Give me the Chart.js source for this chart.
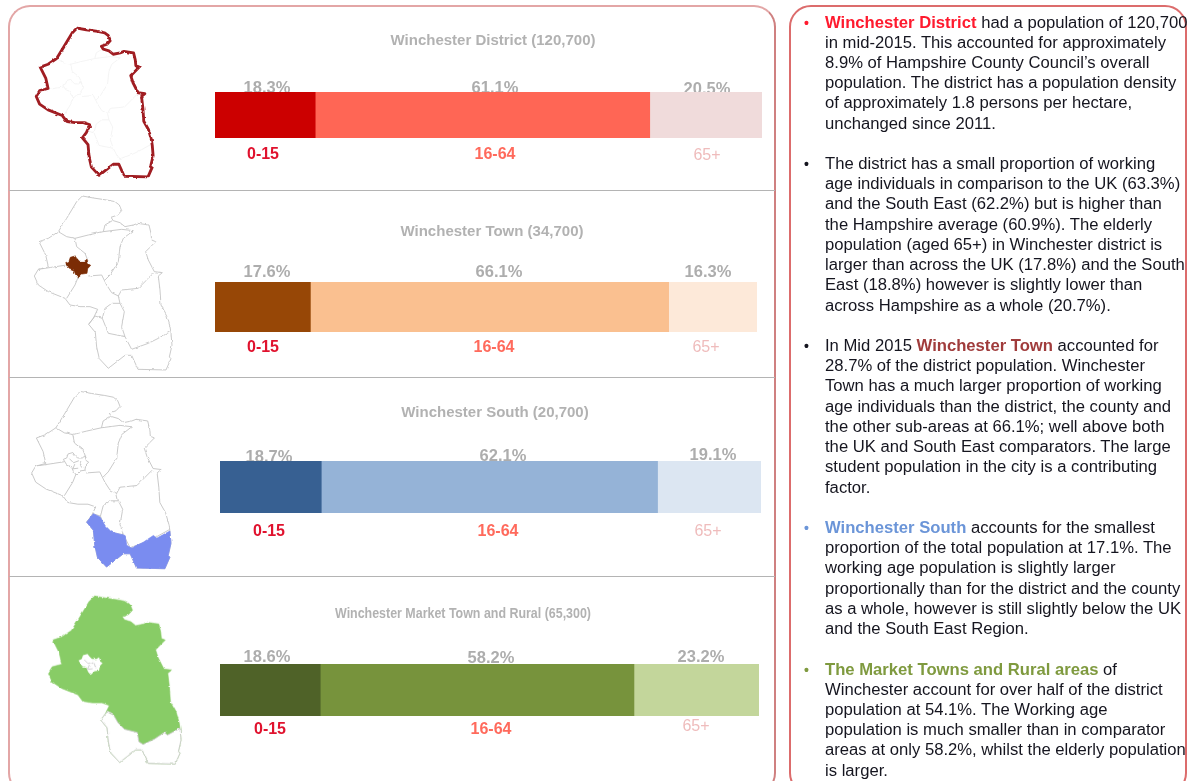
<!DOCTYPE html>
<html>
<head>
<meta charset="utf-8">
<title>Winchester population by age</title>
<script src="https://cdn.jsdelivr.net/npm/chart.js@4"></script>
<style>
html, body { margin: 0; padding: 0; background: #fff; overflow: hidden; }
#page { position: relative; width: 1196px; height: 781px; overflow: hidden; font-family: "Liberation Sans", Arial, sans-serif; }
.box { position: absolute; box-sizing: border-box; top: 5px; height: 790px; background: #fff; border-radius: 22px; }
#leftbox { left: 8px; width: 768px; border: 2px solid #e3a6a6; border-right-color: #cf8080; }
#rightbox { left: 789px; width: 398px; border: 2px solid #dc6c6c; }
.rule { position: absolute; left: 9px; width: 766px; height: 0; border-top: 1.5px solid #b4b4b4; }
canvas { position: absolute; }
svg.map { position: absolute; left: 0; top: 0; filter: blur(0.35px); }
#notes { position: absolute; left: 825px; top: 12.5px; width: 370px; font-size: 16.65px; line-height: 20.22px; color: #15151f; white-space: nowrap; }
#notes p { margin: 0 0 20.22px 0; position: relative; }
#notes p i { position: absolute; left: -21px; font-style: normal; font-weight: bold; font-size: 14px; }
#notes b { font-weight: bold; }
</style>
</head>
<body>
<div id="page">
  <div class="box" id="leftbox"></div>
  <div class="box" id="rightbox"></div>
  <div class="rule" style="top:190px"></div>
  <div class="rule" style="top:377px"></div>
  <div class="rule" style="top:576px"></div>

  <svg class="map" width="1196" height="781" viewBox="0 0 1196 781">
    <defs>
      <filter id="jag" filterUnits="userSpaceOnUse" x="0" y="0" width="200" height="781" color-interpolation-filters="sRGB">
        <feTurbulence type="fractalNoise" baseFrequency="0.2" numOctaves="2" seed="4" result="n"/>
        <feDisplacementMap in="SourceGraphic" in2="n" scale="2.6" xChannelSelector="R" yChannelSelector="G"/>
      </filter>
      <path id="outline" d="M172 18 L205 24 L245 30 L270 35 L283 45 L290 62 L278 75 L258 82 L265 92 L285 98 L300 110 L325 105 L338 100 L372 105 L378 130 L380 150 L392 155 L375 172 L362 185 L370 210 L388 245 L412 248 L400 258 L405 300 L408 345 L425 375 L435 410 L438 429 L441 466 L433 501 L438 506 L423 540 L339 538 L320 496 L300 496 L250 535 L223 506 L215 471 L211 427 L191 403 L205 385 L218 358 L195 350 L165 350 L135 345 L120 325 L70 305 L40 285 L28 258 L40 238 L70 230 L62 195 L42 155 L70 145 L100 125 L125 85 L155 35 Z"/>
      <path id="wards" d="M100 125 L125 140 L150 145 L190 135 L235 125 L240 105 L262 92 M150 145 L155 170 L180 190 L190 215 M235 125 L290 118 L325 122 L295 145 L285 170 L280 215 L255 255 L240 270 M40 238 L125 225 M160 260 L150 285 L125 325 M190 258 L230 255 L245 285 L260 308 L280 318 L290 300 L340 295 L385 250 M280 318 L285 340 L260 340 L240 355 L232 385 L250 430 L275 435 L300 440 M285 340 L298 365 L290 410 L300 440 L320 478 L370 460 L400 445 L436 425 M191 403 L210 378 L232 385"/>
      <path id="south" d="M211 378 L231 388 L245 412 L265 432 L305 442 L310 471 L323 479 L359 462 L389 442 L399 450 L438 429 L441 466 L433 501 L438 506 L423 540 L339 538 L320 496 L300 496 L250 535 L223 506 L215 471 L211 427 L191 403 Z"/>
      <path id="town" d="M122 218 L132 214 L136 202 L150 198 L156 206 L164 214 L178 214 L186 208 L190 222 L197 226 L188 236 L186 250 L172 252 L160 263 L152 254 L146 240 L132 234 Z"/>
      <path id="townlines" d="M140 216 L152 228 L168 222 M156 232 L150 246 L166 244 M170 226 L176 242"/>
    </defs>

    <g filter="url(#jag)">
      <!-- district -->
      <g transform="translate(28.3 22.9) scale(0.283 0.285)">
        <use href="#wards" fill="none" stroke="#f2f2f2" stroke-width="3"/>
        <use href="#town" fill="none" stroke="#f2f2f2" stroke-width="3"/>
        <use href="#outline" fill="none" stroke="#a01d22" stroke-width="10" stroke-linejoin="round"/>
      </g>
      <!-- town -->
      <g transform="translate(25 190) scale(0.3333)">
        <use href="#outline" fill="#fff" stroke="#c2c2c2" stroke-width="2.6"/>
        <use href="#wards" fill="none" stroke="#c2c2c2" stroke-width="2.6"/>
        <use href="#town" fill="#7b2c05" stroke="#7b2c05" stroke-width="2"/>
      </g>
      <!-- south -->
      <g transform="translate(22.2 385.3) scale(0.3373 0.3397)">
        <use href="#outline" fill="#fff" stroke="#c2c2c2" stroke-width="2.6"/>
        <use href="#wards" fill="none" stroke="#c2c2c2" stroke-width="2.6"/>
        <use href="#town" fill="none" stroke="#c2c2c2" stroke-width="2.6"/>
        <use href="#townlines" fill="none" stroke="#c2c2c2" stroke-width="2.6"/>
        <use href="#south" fill="#7a8cf0" stroke="#7a8cf0" stroke-width="2"/>
      </g>
      <!-- market towns -->
      <g transform="translate(39.3 590.2) scale(0.3212 0.3218)">
        <use href="#outline" fill="#88cc66" stroke="#88cc66" stroke-width="2"/>
        <use href="#town" fill="#fff"/>
        <use href="#townlines" fill="none" stroke="#c2c2c2" stroke-width="2.4"/>
        <use href="#south" fill="#fff" stroke="#c8c8c8" stroke-width="2.6"/>
      </g>
    </g>
  </svg>

  <div id="notes">
    <p><i style="color:#ff1a2e">&bull;</i><b style="color:#ff1a2e">Winchester District</b> had a population of 120,700<br>in mid-2015. This accounted for approximately<br>8.9% of Hampshire County Council&rsquo;s overall<br>population. The district has a population density<br>of approximately 1.8 persons per hectare,<br>unchanged since 2011.</p>
    <p><i>&bull;</i>The district has a small proportion of working<br>age individuals in comparison to the UK (63.3%)<br>and the South East (62.2%) but is higher than<br>the Hampshire average (60.9%). The elderly<br>population (aged 65+) in Winchester district is<br>larger than across the UK (17.8%) and the South<br>East (18.8%) however is slightly lower than<br>across Hampshire as a whole (20.7%).</p>
    <p><i>&bull;</i>In Mid 2015 <b style="color:#a03c3c">Winchester Town</b> accounted for<br>28.7% of the district population. Winchester<br>Town has a much larger proportion of working<br>age individuals than the district, the county and<br>the other sub-areas at 66.1%; well above both<br>the UK and South East comparators. The large<br>student population in the city is a contributing<br>factor.</p>
    <p><i style="color:#6b95d8">&bull;</i><b style="color:#6b95d8">Winchester South</b> accounts for the smallest<br>proportion of the total population at 17.1%. The<br>working age population is slightly larger<br>proportionally than for the district and the county<br>as a whole, however is still slightly below the UK<br>and the South East Region.</p>
    <p><i style="color:#7f9a3f">&bull;</i><b style="color:#7f9a3f">The Market Towns and Rural areas</b> of<br>Winchester account for over half of the district<br>population at 54.1%. The Working age<br>population is much smaller than in comparator<br>areas at only 58.2%, whilst the elderly population<br>is larger.</p>
  </div>

  <canvas id="c0"></canvas>
  <canvas id="c1"></canvas>
  <canvas id="c2"></canvas>
  <canvas id="c3"></canvas>
</div>

<script>
// data
var ageBands = ["0-15", "16-64", "65+"];
var areaNames = ["Winchester District (120,700)", "Winchester Town (34,700)", "Winchester South (20,700)", "Winchester Market Town and Rural (65,300)"];
var districtValues = [18.3, 61.1, 20.5];
var townValues = [17.6, 66.1, 16.3];
var southValues = [18.7, 62.1, 19.1];
var marketValues = [18.6, 58.2, 23.2];

var districtColours = ["#cc0000", "#ff6655", "#f0dbdb"];
var townColours = ["#974706", "#fac090", "#fde9d9"];
var southColours = ["#376092", "#95b3d7", "#dce6f2"];
var marketColours = ["#4f6228", "#77933c", "#c3d69b"];

// where each panel sits on the page
var layouts = [
    { top: 8, bottom: 189, left: 215, right: 762, barTop: 92, barBottom: 138, titleX: 493, titleY: 41, titleW: 206, valueX: [267, 495, 707], valueY: [88, 88, 89], bandX: [263, 495, 707], bandY: [154.5, 154.5, 156] },
    { top: 192, bottom: 376, left: 215, right: 757, barTop: 282, barBottom: 332, titleX: 492, titleY: 232, titleW: 185, valueX: [267, 499, 708], valueY: [272, 272, 272], bandX: [263, 494, 706], bandY: [347.5, 347.5, 347.5] },
    { top: 379, bottom: 575, left: 220, right: 761, barTop: 461, barBottom: 513, titleX: 495, titleY: 413, titleW: 189, valueX: [269, 503, 713], valueY: [457, 456, 455], bandX: [269, 498, 708], bandY: [531.5, 531.5, 531.5] },
    { top: 578, bottom: 775, left: 220, right: 759, barTop: 664, barBottom: 716, titleX: 463, titleY: 614, titleW: 256, valueX: [267, 491, 701], valueY: [657, 658, 657], bandX: [270, 491, 696], bandY: [729.5, 729.5, 726.5] }
];
var bandColours = ["#e0122e", "#ff6a5c", "#efbcbc"];
var canvasLeft = 180, canvasWidth = 590;

var panelText = {
    id: "panelText",
    beforeDatasetsDraw: function (chart, args, opts) {
        var ctx = chart.ctx, l = opts.layout;
        ctx.save();
        ctx.textAlign = "center";
        ctx.textBaseline = "middle";
        ctx.font = "bold 15px 'Liberation Sans'";
        ctx.fillStyle = "#b2b2b2";
        ctx.fillText(opts.title, l.titleX - canvasLeft, l.titleY - l.top, l.titleW);
        for (var i = 0; i < ageBands.length; i++) {
            ctx.font = "bold 16.5px 'Liberation Sans'";
            ctx.fillStyle = "#adadad";
            ctx.fillText(opts.values[i].toFixed(1) + "%", l.valueX[i] - canvasLeft, l.valueY[i] - l.top);
            ctx.font = (i == 2 ? "" : "bold ") + "16px 'Liberation Sans'";
            ctx.fillStyle = bandColours[i];
            ctx.fillText(ageBands[i], l.bandX[i] - canvasLeft, l.bandY[i] - l.top);
        }
        ctx.restore();
    }
};

function drawPanel(index, values, colours) {
    var l = layouts[index];
    var canvas = document.getElementById("c" + index);
    var height = l.bottom - l.top;
    canvas.width = canvasWidth;
    canvas.height = height;
    canvas.style.left = canvasLeft + "px";
    canvas.style.top = l.top + "px";

    var sets = [];
    for (var i = 0; i < values.length; i++) {
        sets.push({
            label: ageBands[i],
            data: [values[i]],
            backgroundColor: colours[i],
            borderWidth: 0,
            barPercentage: 1,
            categoryPercentage: 1
        });
    }
    var total = values.reduce(function (a, b) { return a + b; }, 0);

    new Chart(canvas, {
        type: "bar",
        data: { labels: [areaNames[index]], datasets: sets },
        options: {
            indexAxis: "y",
            responsive: false,
            animation: false,
            layout: {
                padding: {
                    left: l.left - canvasLeft,
                    right: canvasLeft + canvasWidth - l.right,
                    top: l.barTop - l.top,
                    bottom: l.bottom - l.barBottom
                }
            },
            scales: {
                x: { stacked: true, min: 0, max: total, display: false },
                y: { stacked: true, display: false }
            },
            plugins: {
                legend: { display: false },
                tooltip: { enabled: false },
                panelText: { layout: l, title: areaNames[index], values: values }
            }
        },
        plugins: [panelText]
    });
}

drawPanel(0, districtValues, districtColours);
drawPanel(1, townValues, townColours);
drawPanel(2, southValues, southColours);
drawPanel(3, marketValues, marketColours);
</script>
</body>
</html>
